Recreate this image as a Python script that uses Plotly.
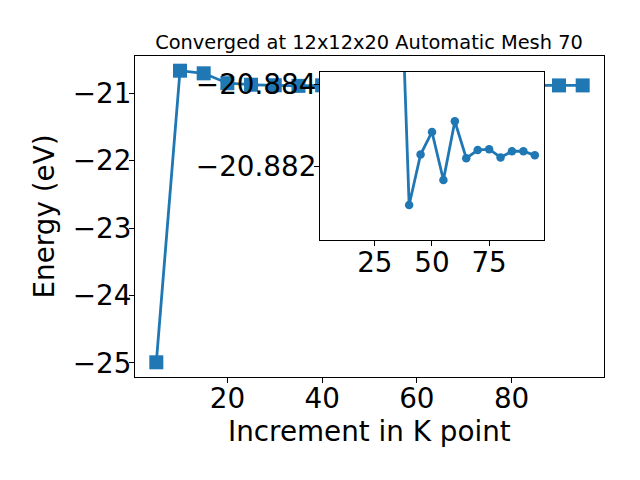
import plotly.graph_objects as go

k_points = [5, 10, 15, 20, 25, 30, 35, 40, 45, 50, 55, 60, 65, 70, 75, 80, 85, 90, 95]
energies = [-24.99, -20.664, -20.703, -20.85, -20.872, -20.880, -20.889,
            -20.88106, -20.88229, -20.88284, -20.88167, -20.8831, -20.8822,
            -20.8824, -20.88242, -20.88222, -20.88237, -20.88237, -20.88227]
inset_start = 6  # inset shows the converging tail, from 35 k-points on

main_xticks = [20, 40, 60, 80]
main_yticks = [-25, -24, -23, -22, -21]
inset_xticks = [25, 50, 75]
inset_yticks = [-20.884, -20.882]

title_text = "Converged at 12x12x20 Automatic Mesh 70"
xlabel = "Increment in K point"
ylabel = "Energy (eV)"

blue = "#1f77b4"
FONT = "DejaVu Sans"
TICK = 27.8

fig = go.Figure()
fig.add_trace(go.Scatter(x=k_points, y=energies, mode="lines+markers",
                         line=dict(color=blue, width=2.8),
                         marker=dict(symbol="square", size=14, color=blue),
                         xaxis="x", yaxis="y", showlegend=False))
fig.add_trace(go.Scatter(x=k_points[inset_start:], y=energies[inset_start:],
                         mode="lines+markers",
                         line=dict(color=blue, width=2.8),
                         marker=dict(symbol="circle", size=8.5, color=blue),
                         xaxis="x2", yaxis="y2", showlegend=False))

ax_common = dict(showline=True, linecolor="black", linewidth=1.1, mirror=True,
                 ticks="outside", ticklen=5, tickwidth=1.1, tickcolor="black",
                 showgrid=False, zeroline=False, automargin=False,
                 ticklabelstandoff=-8,
                 tickfont=dict(family=FONT, size=TICK, color="black"))

# page body has an 8px margin, so the figure is 624x464 placed at (8, 8)
W, H = 624, 464
fig.update_layout(
    template="none",
    width=W, height=H,
    paper_bgcolor="white", plot_bgcolor="white",
    margin=dict(l=127, r=28, t=48, b=95.3, pad=0, autoexpand=False),
    font=dict(family=FONT, color="black"),
    title=dict(text=title_text, xref="container", x=361 / W, xanchor="center",
               yref="container", y=1 - 34 / H, yanchor="middle",
               font=dict(family=FONT, size=19.4, color="black")),
    xaxis=dict(range=[0.5, 99.5], tickvals=main_xticks, domain=[0, 1], **ax_common),
    yaxis=dict(range=[-25.208, -20.446], tickvals=main_yticks, domain=[0, 1],
               tickformat="d", **ax_common),
    xaxis2=dict(range=[1, 99], tickvals=inset_xticks, domain=[0.3945, 0.872],
                anchor="y2", **ax_common),
    yaxis2=dict(range=[-20.8802, -20.8843], tickvals=inset_yticks, domain=[0.426, 0.950],
                anchor="x2", tickformat=".3f", **ax_common),
    annotations=[
        dict(text=xlabel, xref="paper", yref="paper", x=0.5, y=-0.169,
             xanchor="center", yanchor="middle", showarrow=False,
             font=dict(family=FONT, size=TICK, color="black")),
        dict(text=ylabel, xref="paper", yref="paper", x=-0.192, y=0.5,
             xanchor="center", yanchor="middle", showarrow=False, textangle=-90,
             font=dict(family=FONT, size=TICK, color="black")),
    ],
)

fig.write_html("out.html")
